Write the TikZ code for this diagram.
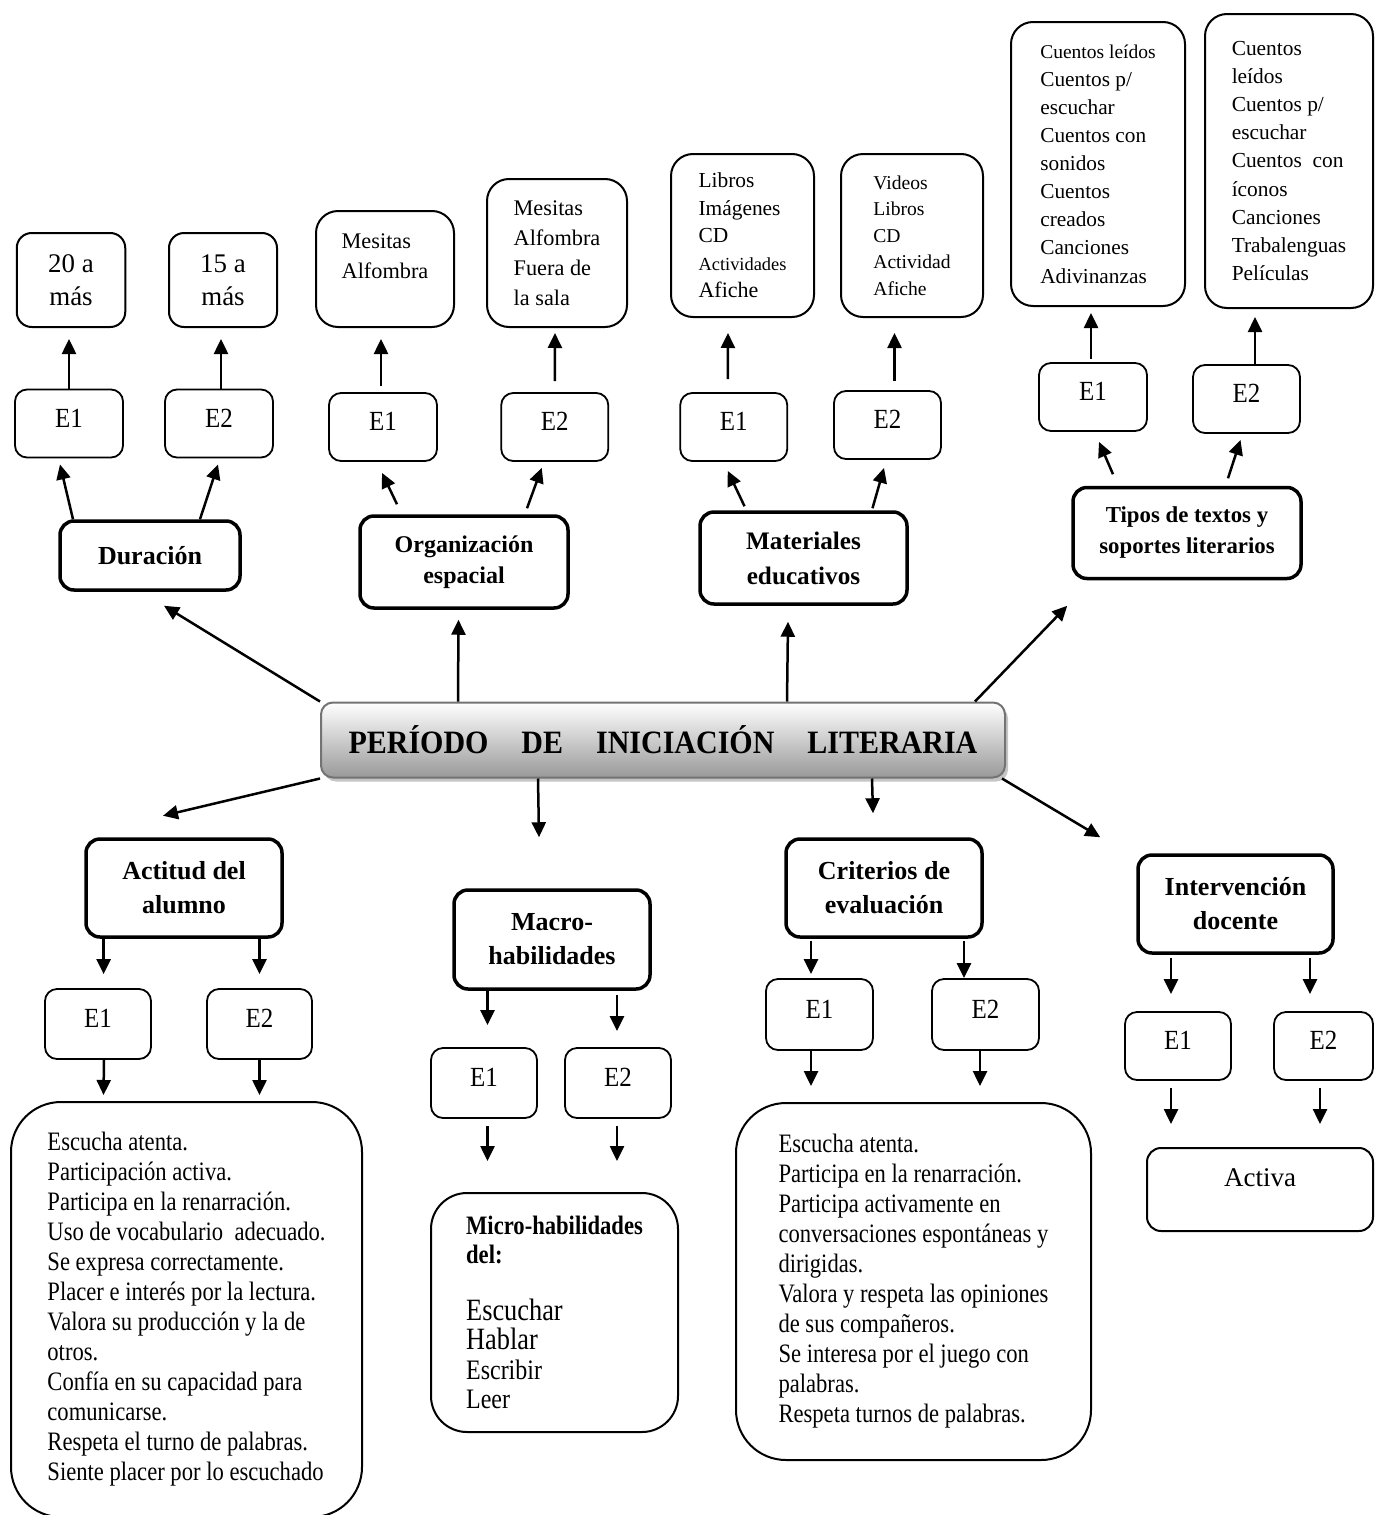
\documentclass[tikz,border=0pt]{standalone}
\usepackage{fontspec}
\setmainfont{Liberation Serif}
\newfontfamily\listfont{Liberation Serif}[FakeStretch=0.85]
\newfontfamily\efont{Liberation Serif}[FakeStretch=0.9]
\newfontfamily\titlefont{Liberation Serif}[FakeStretch=0.92]
\usetikzlibrary{arrows.meta,calc,shadows}

\tikzset{
  ebox/.style={draw, line width=1.8pt, rounded corners=12pt, text depth=11pt,
    minimum width=107pt, minimum height=68pt, font=\efont\fontsize{27.7}{30}\selectfont},
  headbox/.style={draw, line width=3.5pt, rounded corners=14pt, align=center,
    minimum width=196pt, minimum height=98pt, font=\bfseries\fontsize{26}{34}\selectfont},
  listbox/.style={draw, line width=2pt, rounded corners=22pt, align=left},
  arr/.style={line width=2.5pt, -{Triangle[length=15pt,width=14pt]}},
}

\begin{document}
\begin{tikzpicture}[x=1pt,y=-1pt]

    \useasboundingbox (0,0) rectangle (1374,1515);

    \node[draw=black!55, line width=2pt, rounded corners=12pt,
      top color=white, bottom color=black!40,
      drop shadow={shadow xshift=3pt, shadow yshift=-4pt, fill=black!45},
      minimum width=684pt, minimum height=75pt,
      font=\titlefont\bfseries\fontsize{32.6}{36}\selectfont] (title) at (663,740)
      {PERÍODO\hspace{33pt}DE\hspace{33pt}INICIACIÓN\hspace{33pt}LITERARIA};

    % upper half
    \node[headbox, minimum width=180pt, minimum height=69pt] (dur) at (150,555.5) {Duración};
    \node[headbox, minimum width=208pt, minimum height=92pt,
      font=\bfseries\fontsize{24}{31}\selectfont] (org) at (464,562) {Organización\\espacial};
    \node[headbox, minimum width=207pt, minimum height=92pt,
      font=\bfseries\fontsize{25.2}{35}\selectfont] (mat) at (803.5,558) {Materiales\\educativos};
    \node[headbox, minimum width=228pt, minimum height=91pt,
      font=\bfseries\fontsize{22.8}{31}\selectfont] (tipos) at (1187,533) {Tipos de textos y\\soportes literarios};

    \node[ebox, minimum width=108pt] (durE1) at (69,423.5) {E1};
    \node[ebox, minimum width=108pt] (durE2) at (219,423.5) {E2};
    \node[ebox, minimum width=108pt] (orgE1) at (383,427) {E1};
    \node[ebox] (orgE2) at (554.75,427) {E2};
    \node[ebox] (matE1) at (733.75,427) {E1};
    \node[ebox] (matE2) at (887.5,425) {E2};
    \node[ebox, minimum width=108pt] (tipE1) at (1093,397) {E1};
    \node[ebox] (tipE2) at (1246.5,399) {E2};

    \node[listbox, rounded corners=15pt, align=center, minimum width=108.5pt, minimum height=94pt,
      font=\fontsize{26.9}{33}\selectfont] (dur1) at (71,280) {20 a\\más};
    \node[listbox, rounded corners=15pt, align=center, minimum width=108pt, minimum height=94pt,
      font=\fontsize{26.9}{33}\selectfont] (dur2) at (223,280) {15 a\\más};
    \node[listbox, minimum width=138pt, minimum height=116pt, text depth=26pt,
      font=\fontsize{22.3}{30}\selectfont] (org1) at (385,269) {Mesitas\\Alfombra};
    \node[listbox, minimum width=140pt, minimum height=148pt,
      font=\fontsize{22.3}{30}\selectfont] (org2) at (557,253) {Mesitas\\Alfombra\\Fuera de\\la sala};
    \node[listbox, minimum width=143pt, minimum height=163pt,
      font=\fontsize{21.4}{27.5}\selectfont] (mat1) at (742.5,235.5)
      {Libros\\Imágenes\\CD\\{\fontsize{18.4}{27.5}\selectfont Actividades}\\{\fontsize{22}{27.5}\selectfont Afiche}};
    \node[listbox, minimum width=142pt, minimum height=163pt,
      font=\fontsize{19.6}{26.5}\selectfont] (mat2) at (912,235.5) {Videos\\Libros\\CD\\Actividad\\Afiche};
    \node[listbox, minimum width=174pt, minimum height=284pt,
      font=\fontsize{21.3}{28.1}\selectfont] (tip1) at (1098,164)
      {{\fontsize{19.5}{28.1}\selectfont Cuentos leídos}\\Cuentos p/\\escuchar\\Cuentos con\\sonidos\\Cuentos\\creados\\Canciones\\Adivinanzas};
    \node[listbox, minimum width=168pt, minimum height=294pt,
      font=\fontsize{21.4}{28.2}\selectfont] (tip2) at (1289,161)
      {Cuentos\\leídos\\Cuentos p/\\escuchar\\Cuentos\ \ con\\íconos\\Canciones\\Trabalenguas\\Películas};

    \draw[arr] (title.north west) -- ($(dur.south)+(14,14)$);
    \draw[arr] ($(title.north west)+(138,0)$) -- ($(org.south)+(-5.5,10)$);
    \draw[arr] ($(title.north west)+(467,0)$) -- ($(mat.south)+(-15.5,16)$);
    \draw[arr] ($(title.north east)+(-31,0)$) -- ($(tipos.south west)+(-4,25.5)$);

    \draw[arr] ($(dur.north)+(-77,0)$) -- ($(durE1.south)+(-9,6)$);
    \draw[arr] ($(dur.north)+(50,0)$) -- ($(durE2.south)+(-1,6)$);
    \draw[arr] ($(org.north)+(-67,-10)$) -- ($(orgE1.south)+(-1,11)$);
    \draw[arr] ($(org.north)+(63,-6)$) -- ($(orgE2.south)+(-13,6)$);
    \draw[arr] ($(mat.north)+(-59,-4)$) -- ($(matE1.south)+(-6,9)$);
    \draw[arr] ($(mat.north)+(69,-2)$) -- ($(matE2.south)+(-3.5,8)$);
    \draw[arr] ($(tipos.north)+(-74,-11.5)$) -- ($(tipE1.south)+(6,10)$);
    \draw[arr] ($(tipos.north)+(41,-7.5)$) -- ($(tipE2.south)+(-6,6)$);

    \draw[arr] (durE1.north) -- ($(dur1.south)+(-2,11)$);
    \draw[arr] ($(durE2.north)+(2,0)$) -- ($(dur2.south)+(-2,11)$);
    \draw[arr] ($(orgE1.north)+(-2,-6)$) -- ($(org1.south)+(-4,11)$);
    \draw[arr] ($(orgE2.north)+(0,-11)$) -- ($(org2.south)+(-2,5)$);
    \draw[arr] ($(matE1.north)+(-6,-13)$) -- ($(mat1.south)+(-14.5,15)$);
    \draw[arr] ($(matE2.north)+(7,-9)$) -- ($(mat2.south)+(-17.5,15)$);
    \draw[arr] ($(tipE1.north)+(-2,-3)$) -- ($(tip1.south)+(-7,6)$);
    \draw[arr] ($(tipE2.north)+(8.5,0)$) -- ($(tip2.south)+(-34,8)$);

    % lower half
    \node[headbox] (act) at (184,888) {Actitud del\\alumno};
    \node[headbox, minimum height=99pt] (macro) at (552,939.5) {Macro-\\habilidades};
    \node[headbox] (crit) at (884,888) {Criterios de\\evaluación};
    \node[headbox, minimum width=195pt] (inter) at (1235.5,904) {Intervención\\docente};

    \node[ebox, minimum width=106pt, minimum height=70pt] (actE1) at (98,1024) {E1};
    \node[ebox, minimum width=105pt, minimum height=70pt] (actE2) at (259.5,1024) {E2};
    \node[ebox, minimum width=106pt, minimum height=70pt] (macE1) at (484,1083) {E1};
    \node[ebox, minimum width=106pt, minimum height=70pt] (macE2) at (618,1083) {E2};
    \node[ebox, minimum height=71pt] (critE1) at (819.5,1014.5) {E1};
    \node[ebox, minimum height=71pt] (critE2) at (985.5,1014.5) {E2};
    \node[ebox, minimum width=106pt] (interE1) at (1178,1046) {E1};
    \node[ebox, minimum width=99pt] (interE2) at (1323.5,1046) {E2};

    \node[listbox, rounded corners=50pt, minimum width=351pt, minimum height=415pt,
      font=\listfont\fontsize{26.6}{30}\selectfont] (actList) at (186.5,1309.5)
      {Escucha atenta.\\
        Participación activa.\\
        Participa en la renarración.\\
        Uso de vocabulario\ \ adecuado.\\
        Se expresa correctamente.\\
        Placer e interés por la lectura.\\
        Valora su producción y la de\\
        otros.\\
        Confía en su capacidad para\\
        comunicarse.\\
        Respeta el turno de palabras.\\
        Siente placer por lo escuchado};
    \node[listbox, rounded corners=36pt, minimum width=247pt, minimum height=239pt,
      font=\listfont\fontsize{26.6}{29.5}\selectfont] (micro) at (554.5,1312.5)
      {\textbf{Micro-habilidades}\\
        \textbf{del:}\\[27pt]
        {\fontsize{31}{29.5}\selectfont Escuchar}\\
        {\fontsize{31}{29.5}\selectfont Hablar}\\
        {\fontsize{28.2}{29.5}\selectfont Escribir}\\
        {\fontsize{28.2}{29.5}\selectfont Leer}};
    \node[listbox, rounded corners=50pt, minimum width=355pt, minimum height=357pt,
      font=\listfont\fontsize{26.6}{30}\selectfont] (critList) at (913.5,1281.5)
      {Escucha atenta.\\
        Participa en la renarración.\\
        Participa activamente en\\
        conversaciones espontáneas y\\
        dirigidas.\\
        Valora y respeta las opiniones\\
        de sus compañeros.\\
        Se interesa por el juego con\\
        palabras.\\
        Respeta turnos de palabras.};
    \node[listbox, rounded corners=14pt, minimum width=226pt, minimum height=83pt, text depth=24pt,
      font=\fontsize{27}{32}\selectfont] (activa) at (1260,1189.5) {Activa};

    \draw[arr] (title.south west) -- ($(act.north)+(-21,-21.5)$);
    \draw[arr] ($(title.south west)+(218,0)$) -- ($(macro.north)+(-13,-51)$);
    \draw[arr] ($(title.south west)+(552,0)$) -- ($(crit.north)+(-11,-24)$);
    \draw[arr] ($(title.south east)+(-4,0)$) -- ($(inter.north west)+(-36,-16)$);

    \draw[arr] ($(act.south)+(-80.4,0)$) -- ($(actE1.north)+(5.6,-14)$);
    \draw[arr] ($(act.south)+(75.5,0)$) -- ($(actE2.north)+(0,-14)$);
    \draw[arr] ($(actE1.south)+(6,0)$) -- ($(actList.north)+(-83,-6)$);
    \draw[arr] (actE2.south) -- ($(actList.north)+(73,-6)$);

    \draw[arr] ($(macro.south)+(-64.5,0)$) -- ($(macE1.north)+(3.5,-22)$);
    \draw[arr] ($(macro.south)+(65,4)$) -- ($(macE2.north)+(-1,-16)$);
    \draw[arr] ($(macE1.south)+(3.5,7)$) -- ($(micro.north)+(-67,-31)$);
    \draw[arr] ($(macE2.south)+(-1,7)$) -- ($(micro.north)+(62.5,-31)$);

    \draw[arr] ($(crit.south)+(-73,2)$) -- ($(critE1.north)+(-8.5,-4)$);
    \draw[arr] ($(crit.south)+(80,2)$) -- ($(critE2.north)+(-21.5,0)$);
    \draw[arr] ($(critE1.south)+(-8.5,0)$) -- ($(critList.north)+(-102.5,-16)$);
    \draw[arr] ($(critE2.south)+(-5.5,0)$) -- ($(critList.north)+(66.5,-16)$);

    \draw[arr] ($(inter.south)+(-64.5,3)$) -- ($(interE1.north)+(-7,-17)$);
    \draw[arr] ($(inter.south)+(74.5,3)$) -- ($(interE2.north)+(-13.5,-17)$);
    \draw[arr] ($(interE1.south)+(-7,7)$) -- ($(activa.north)+(-89,-23)$);
    \draw[arr] ($(interE2.south)+(-3.5,7)$) -- ($(activa.north)+(60,-23)$);

  \end{tikzpicture}
\end{document}
